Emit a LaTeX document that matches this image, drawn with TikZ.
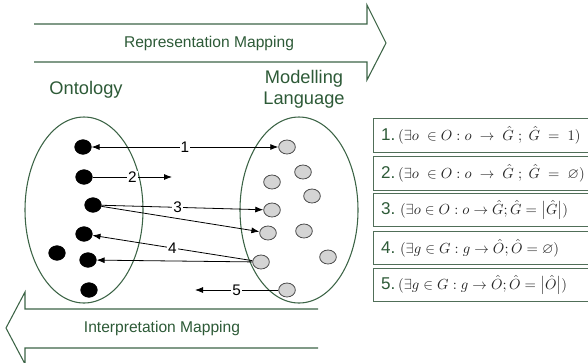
\documentclass[tikz,border=0pt]{standalone}
\usepackage{amsmath,amssymb}
\usepackage{fontspec}
\setmainfont{Liberation Sans}
\usetikzlibrary{shapes.geometric,arrows.meta}
\definecolor{dg}{RGB}{45,90,55}
\definecolor{lg}{RGB}{60,100,70}
\definecolor{bx}{RGB}{80,110,88}
\newcommand{\fml}[1]{{\color{black!85}\fontsize{11}{13}\selectfont$#1$}}
\newcommand{\rl}[1]{\makebox[150pt][l]{#1}}
\begin{document}
\begin{tikzpicture}[x=0.75pt,y=-0.75pt,
 bigarrow/.style={draw=lg, line width=0.8pt, line join=miter},
 ttl/.style={text=dg, font=\fontsize{11.7}{13}\selectfont},
 hdr/.style={text=dg, font=\fontsize{13.7}{16}\selectfont, align=center},
 set/.style={draw=lg, ellipse, line width=0.8pt, minimum width=88.5pt, minimum height=139.5pt, inner sep=0pt},
 bdot/.style={ellipse, fill=black, draw=black, minimum width=12.5pt, minimum height=11pt, inner sep=0pt},
 gdot/.style={ellipse, fill=black!17, draw=black!70, line width=0.6pt, minimum width=12.5pt, minimum height=10.5pt, inner sep=0pt},
 conn/.style={draw=black, line width=0.6pt, -{Latex[length=6pt,width=4.5pt]}},
 lbl/.style={fill=white, inner sep=0.8pt, font=\fontsize{11.5}{13}\selectfont},
 rulebox/.style={draw=bx, line width=0.8pt, minimum width=161.25pt, minimum height=25pt, inner xsep=4.5pt, inner ysep=0pt, anchor=west, text=dg, font=\fontsize{12.8}{14}\selectfont}]
\useasboundingbox (0,0) rectangle (588,362);
% big arrows
\draw[bigarrow] (34,24) -- (367,24) -- (367,5) -- (386,43) -- (367,80) -- (367,62) -- (34,62);
\draw[bigarrow] (318,309) -- (25,309) -- (25,292) -- (6,328) -- (25,364) -- (25,348) -- (318,348);
\node[ttl] (rep) at (209,43) {Representation Mapping};
\node[ttl] (int) at (162,328) {Interpretation Mapping};
% headers
\node[hdr] (ont) at (86,90) {Ontology};
\node[hdr] (mod) at (304,89) {Modelling\\Language};
% sets
\node[set] (O) at (84,210) {};
\node[set] (G) at (299,210) {};
% ontology dots
\node[bdot] (o1) at (83,147) {};
\node[bdot] (o2) at (84,177) {};
\node[bdot] (o3) at (93,205) {};
\node[bdot] (o4) at (84,234) {};
\node[bdot] (o5) at (57,253) {};
\node[bdot] (o6) at (88,260) {};
\node[bdot] (o7) at (89,290) {};
% language dots
\node[gdot] (g1) at (287,147) {};
\node[gdot] (g2) at (303,172) {};
\node[gdot] (g3) at (272,182) {};
\node[gdot] (g4) at (312,196) {};
\node[gdot] (g5) at (272,210) {};
\node[gdot] (g6) at (268,233) {};
\node[gdot] (g7) at (304,231) {};
\node[gdot] (g8) at (261,262) {};
\node[gdot] (g9) at (328,257) {};
\node[gdot] (g10) at (287,290) {};
\coordinate (c2) at (172,177);
\coordinate (c5) at (195,290);
% connectors
\draw[conn,{Latex[length=6pt,width=4.5pt]}-{Latex[length=6pt,width=4.5pt]}] (o1) -- node[lbl]{1} (g1);
\draw[conn] (o2) -- node[lbl]{2} (c2);
\draw[conn] (o3) -- node[lbl,pos=0.47]{3} (g5);
\draw[conn] (o3) -- (g6);
\draw[conn] (g8) -- node[lbl]{4} (o4);
\draw[conn] (g8) -- (o6);
\draw[conn] (g10) -- node[lbl]{5} (c5);
% rule boxes
\node[rulebox] (r1) at (373,135.5) {\rl{1.\,\fml{(\exists o\;\in O : o\;\rightarrow\;\hat{G}\;;\;\hat{G}\;=\;1)}}};
\node[rulebox] (r2) at (373,173.5) {\rl{2.\,\fml{(\exists o\;\in O : o\;\rightarrow\;\hat{G}\;;\;\hat{G}\;=\;\varnothing)}}};
\node[rulebox] (r3) at (373,210) {\rl{3.\ \fml{(\exists o \in O : o \rightarrow \hat{G} ; \hat{G} = \bigl|\hat{G}\bigr|)}}};
\node[rulebox] (r4) at (373,248) {\rl{4.\ \fml{(\exists g \in G : g \rightarrow \hat{O} ; \hat{O} = \varnothing)}}};
\node[rulebox] (r5) at (373,285) {\rl{5.\,\fml{(\exists g \in G : g \rightarrow \hat{O} ; \hat{O} = \bigl|\hat{O}\bigr|)}}};
\end{tikzpicture}
\end{document}
